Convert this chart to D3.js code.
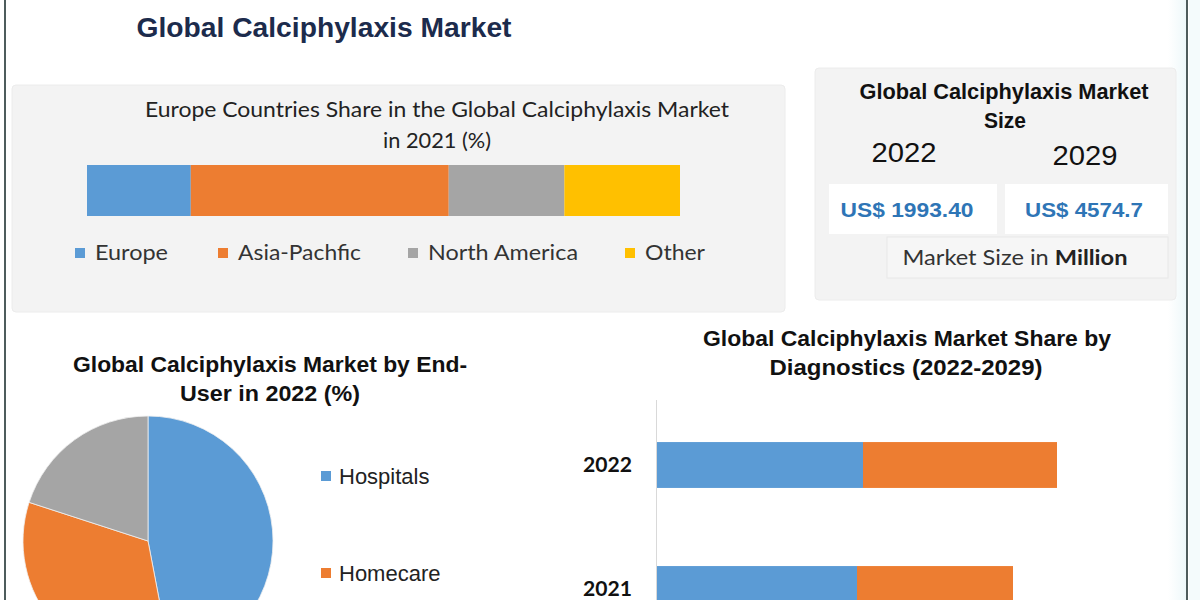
<!DOCTYPE html>
<html><head><meta charset="utf-8">
<script src="https://cdn.jsdelivr.net/npm/d3@7"></script>
<style>html,body{margin:0;padding:0;background:#fff;}svg{display:block;}</style>
</head><body>
<svg id="c" width="1200" height="600"></svg>
<script>
// ---- data ----
const regionCategories = ["Europe", "Asia-Pachfic", "North America", "Other"];
const regionShares = [17.5, 43.5, 19.5, 19.5];
const regionColors = ["#5b9bd5", "#ed7d31", "#a5a5a5", "#ffc000"];

const sizeYears = ["2022", "2029"];
const sizeValues = ["US$ 1993.40", "US$ 4574.7"];

const endUserCategories = ["Hospitals", "Homecare", "Others"];
const endUserShares = [47, 33, 20];
const endUserColors = ["#5b9bd5", "#ed7d31", "#a5a5a5"];

const diagYears = ["2022", "2021"];
const diagSeriesA = [41.2, 40.0];
const diagSeriesB = [38.8, 31.2];
const diagColors = ["#5b9bd5", "#ed7d31"];

// ---- helpers ----
const svg = d3.select("#c");
const NARROW = "'Liberation Sans Narrow','Liberation Sans',Arial,sans-serif";
const CAL = "Lato,'Open Sans',sans-serif";
function txt(g, x, y, s, o) {
  o = o || {};
  const t = g.append("text").attr("x", x).attr("y", y)
    .attr("font-family", o.family || NARROW)
    .attr("font-size", o.size || 20)
    .attr("font-weight", o.weight || "normal")
    .attr("fill", o.fill || "#1a1a1a")
    .attr("text-anchor", o.anchor || "middle")
    .text(s);
  if (o.len) t.attr("textLength", o.len).attr("lengthAdjust", "spacingAndGlyphs");
  return t;
}

// frame
svg.append("rect").attr("x", 0).attr("y", 0).attr("width", 1200).attr("height", 600).attr("fill", "#fff");
const grad = svg.append("defs").append("linearGradient").attr("id", "rg").attr("x1", 0).attr("x2", 1);
grad.append("stop").attr("offset", 0).attr("stop-color", "#ffffff");
grad.append("stop").attr("offset", 1).attr("stop-color", "#eef8fa");
svg.append("rect").attr("x", 1168).attr("y", 0).attr("width", 18).attr("height", 600).attr("fill", "url(#rg)");
svg.append("rect").attr("x", 1189).attr("y", 0).attr("width", 11).attr("height", 600).attr("fill", "#f4fbfc");
svg.append("line").attr("x1", 5).attr("x2", 5).attr("y1", 0).attr("y2", 600).attr("stroke", "#4e5c5c").attr("stroke-width", 2);
svg.append("line").attr("x1", 1187).attr("x2", 1187).attr("y1", 0).attr("y2", 600).attr("stroke", "#4e5c5c").attr("stroke-width", 2);

// main title
txt(svg, 324, 37, "Global Calciphylaxis Market", {size: 28, weight: "bold", fill: "#1c2b4c", len: 375});

// ---- panel 1: stacked share bar ----
const p1 = svg.append("g");
p1.append("rect").attr("x", 12).attr("y", 85).attr("width", 773).attr("height", 227).attr("rx", 4)
  .attr("fill", "#f3f3f3").attr("stroke", "#ececec");
txt(p1, 437, 117, "Europe Countries Share in the Global Calciphylaxis Market", {family: CAL, size: 21, fill: "#222", len: 584});
txt(p1, 437, 148, "in 2021 (%)", {family: CAL, size: 21, fill: "#222", len: 108});

const stackX = d3.scaleLinear().domain([0, d3.sum(regionShares)]).range([87, 680]);
const cum = d3.cumsum(regionShares);
p1.selectAll("rect.seg").data(regionShares).join("rect").attr("class", "seg")
  .attr("x", (d, i) => stackX(cum[i] - d))
  .attr("width", (d, i) => stackX(cum[i]) - stackX(cum[i] - d))
  .attr("y", 165).attr("height", 51)
  .attr("fill", (d, i) => regionColors[i]);

const legX = [75, 218, 408, 625];
const legLen = [73, 123, 150, 60];
regionCategories.forEach((c, i) => {
  p1.append("rect").attr("x", legX[i]).attr("y", 248).attr("width", 10).attr("height", 10).attr("fill", regionColors[i]);
  txt(p1, legX[i] + 20, 260, c, {family: CAL, size: 21, fill: "#333", anchor: "start", len: legLen[i]});
});

// ---- panel 2: market size box ----
const p2 = svg.append("g");
p2.append("rect").attr("x", 815).attr("y", 68).attr("width", 361).attr("height", 232).attr("rx", 4)
  .attr("fill", "#f3f3f3").attr("stroke", "#ececec");
txt(p2, 1004, 99, "Global Calciphylaxis Market", {size: 22, weight: "bold", fill: "#111", len: 289});
txt(p2, 1005, 128, "Size", {size: 22, weight: "bold", fill: "#111", len: 42});
const yrX = [904, 1085];
const yrY = [162, 165];
const boxX = [829, 1005], boxW = [168, 163];
sizeYears.forEach((y, i) => {
  txt(p2, yrX[i], yrY[i], y, {family: "'Liberation Sans',Arial,sans-serif", size: 27, fill: "#111", len: 65});
  p2.append("rect").attr("x", boxX[i]).attr("y", 184).attr("width", boxW[i]).attr("height", 50).attr("fill", "#fff");
});
const valLen = [133, 118];
const valX = [907, 1084];
sizeValues.forEach((v, i) => {
  txt(p2, valX[i], 217, v, {family: "'Liberation Sans',Arial,sans-serif", size: 21, weight: "bold", fill: "#2e75b6", len: valLen[i]});
});
p2.append("rect").attr("x", 887).attr("y", 237).attr("width", 281).attr("height", 41)
  .attr("fill", "#f6f6f6").attr("stroke", "#e8e8e8");
const ms = txt(p2, 1015, 265, "", {family: CAL, size: 21, fill: "#333", len: 225});
ms.append("tspan").text("Market Size in ");
ms.append("tspan").attr("font-weight", "bold").attr("fill", "#222").text("Million");

// ---- panel 3: pie ----
const p3 = svg.append("g");
txt(p3, 270, 372, "Global Calciphylaxis Market by End-", {size: 22, weight: "bold", fill: "#111", len: 394});
txt(p3, 270, 401, "User in 2022 (%)", {size: 22, weight: "bold", fill: "#111", len: 180});
const pie = d3.pie().sort(null).value(d => d)(endUserShares);
const arc = d3.arc().innerRadius(0).outerRadius(125);
p3.append("g").attr("transform", "translate(148,541)")
  .selectAll("path").data(pie).join("path")
  .attr("d", arc).attr("fill", (d, i) => endUserColors[i])
  .attr("stroke", "#f0f0f0").attr("stroke-width", 0.8);
// legend (only the entries inside the visible area are drawn, as in the reference)
const pieLegY = [476, 573];
pieLegY.forEach((ly, i) => {
  p3.append("rect").attr("x", 321).attr("y", ly - 5).attr("width", 10).attr("height", 10).attr("fill", endUserColors[i]);
  txt(p3, 339, ly + 8, endUserCategories[i], {family: "'Liberation Sans',Arial,sans-serif", size: 22, fill: "#222", anchor: "start"});
});

// ---- panel 4: diagnostics stacked bars ----
const p4 = svg.append("g");
txt(p4, 907, 346, "Global Calciphylaxis Market Share by", {size: 22, weight: "bold", fill: "#111", len: 408});
txt(p4, 906, 375, "Diagnostics (2022-2029)", {size: 22, weight: "bold", fill: "#111", len: 273});
const bx = d3.scaleLinear().domain([0, 100]).range([657, 1157]);
const by = d3.scaleBand().domain(diagYears).range([403, 651]).paddingInner(0.63).paddingOuter(0.315);
p4.append("line").attr("x1", 656.5).attr("x2", 656.5).attr("y1", 400).attr("y2", 600).attr("stroke", "#d9d9d9");
diagYears.forEach((y, i) => {
  const y0 = by(y), h = by.bandwidth();
  p4.append("rect").attr("x", bx(0)).attr("y", y0).attr("width", bx(diagSeriesA[i]) - bx(0)).attr("height", h).attr("fill", diagColors[0]);
  p4.append("rect").attr("x", bx(diagSeriesA[i])).attr("y", y0)
    .attr("width", bx(diagSeriesA[i] + diagSeriesB[i]) - bx(diagSeriesA[i])).attr("height", h).attr("fill", diagColors[1]);
  txt(p4, 632, Math.min(y0 + h / 2 + 7, 596), y, {family: CAL, size: 20, weight: "bold", fill: "#111", anchor: "end", len: 49});
});
</script>
</body></html>
